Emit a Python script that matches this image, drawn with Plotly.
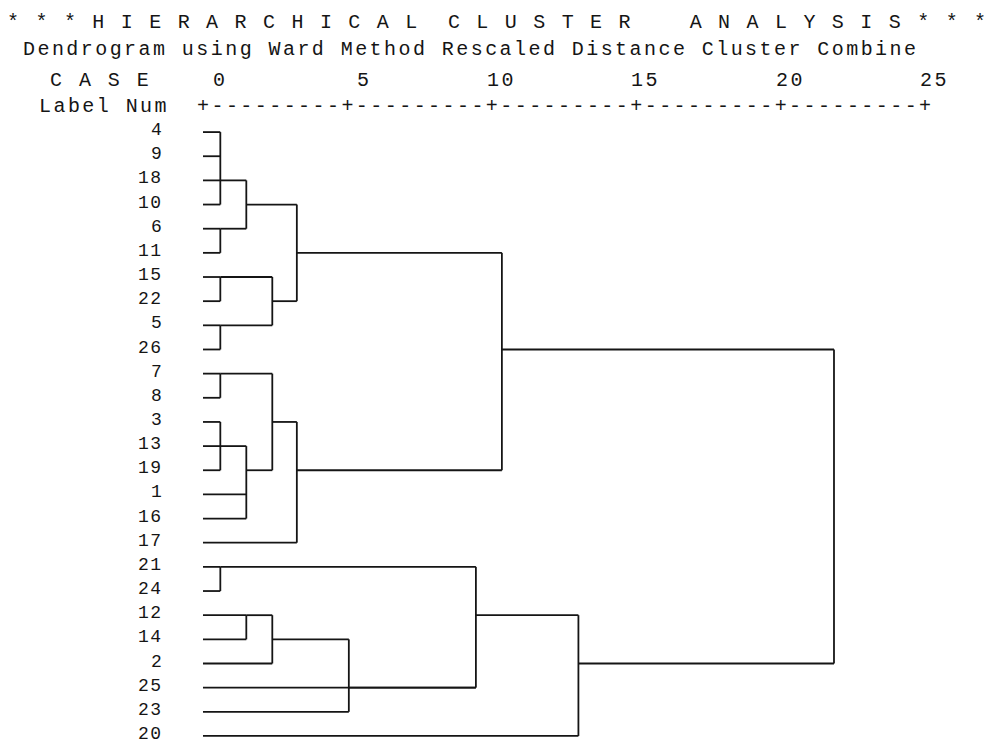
import plotly.graph_objects as go

# Case numbers in dendrogram order (top to bottom)
leaf_labels = [4, 9, 18, 10, 6, 11, 15, 22, 5, 26, 7, 8, 3, 13, 19, 1, 16, 17,
               21, 24, 12, 14, 2, 25, 23, 20]

# Agglomeration steps: members joined, rescaled distance, row that carries the link onward
merge_names = ["A", "B", "C", "D", "E", "F", "G", "H1", "H2", "H3", "I", "J", "K",
               "N1", "N2", "N3", "N4", "N5", "O", "P"]
merge_children = [
    [4, 9, 18, 10],
    [6, 11],
    ["A", "B"],
    [15, 22],
    [5, 26],
    ["D", "E"],
    ["C", "F"],
    [7, 8],
    [3, 13, 19],
    ["H2", 1, 16],
    ["H1", "H3"],
    ["I", 17],
    ["G", "J"],
    [21, 24],
    [12, 14],
    ["N2", 2],
    ["N3", 23],
    ["N1", "N4", 25],
    ["N5", 20],
    ["K", "O"],
]
merge_heights = [0.6, 0.6, 1.5, 0.6, 0.6, 2.4, 3.25, 0.6, 0.6, 1.5, 2.4, 3.25, 10.35,
                 0.6, 1.5, 2.4, 5.05, 9.45, 13.0, 21.85]
merge_rows = [2, 4, 3, 6, 8, 7, 5, 10, 13, 14, 12, 14, 9, 18, 20, 21, 23, 20, 22, None]

# Rescaled distance scale
tick_values = [0, 5, 10, 15, 20, 25]

title_text = "* * * H I E R A R C H I C A L  C L U S T E R    A N A L Y S I S * * *"
subtitle_text = "Dendrogram using Ward Method Rescaled Distance Cluster Combine"
case_text = "C A S E"
label_text = "Label Num"

FONT = "Courier New, Liberation Mono, monospace"
INK = "#151515"
SPACING = 2.44                 # extra letter spacing so each column is ~14.4 px wide
PX_PER_UNIT = 988 / (27.183 + 7.029)

Y_LO, Y_HI = -0.5, 25.25      # visible row span (reversed axis)
PLOT_TOP, PLOT_H = 120, 622    # plot area in pixels


def header_y(px):
    """Paper y for a header line centred at pixel row px (above the plot area)."""
    return (742 - px) / PLOT_H


# Build the elbow segments of the tree
node_pos = {lab: (i, 0.0) for i, lab in enumerate(leaf_labels)}
xs, ys = [], []
for name, kids, h, r in zip(merge_names, merge_children, merge_heights, merge_rows):
    rows = []
    for k in kids:
        kr, kh = node_pos[k]
        xs += [kh, h, None]
        ys += [kr, kr, None]
        rows.append(kr)
    xs += [h, h, None]
    ys += [min(rows), max(rows), None]
    node_pos[name] = (r, h)

fig = go.Figure()
fig.add_trace(go.Scatter(
    x=xs, y=ys, mode="lines",
    line=dict(color=INK, width=1.8),
    hoverinfo="skip", showlegend=False,
))


def mono(s, spacing):
    s = s.replace(" ", "\u00a0")
    return f'<span style="letter-spacing:{spacing}px">{s}</span>'


def note(x, y, text, anchor, size=20, yref="paper", height=None):
    d = dict(x=x, y=y, xref="x", yref=yref, text=text,
             xanchor=anchor, yanchor="middle", showarrow=False,
             font=dict(family=FONT, size=size, color=INK),
             borderpad=0, borderwidth=0)
    if height:
        d["height"] = height
    return d


trail = SPACING / PX_PER_UNIT   # letter spacing also pads after the last glyph

ann = []
# Case labels, right aligned beside each leaf, sitting a touch above the leaf line
for i, lab in enumerate(leaf_labels):
    ann.append(note(-1.38, i - 0.08, mono(str(lab), 1.5), "right", size=18, yref="y", height=16))

# Scale numbers above the ruler
for t in tick_values:
    ann.append(note(t + 0.75 + trail, header_y(80.5), mono(str(t), SPACING), "right"))

# Text ruler: '+' at each scale value, dashes in between
ruler = "+" + "".join("-" * (2 * (b - a) - 1) + "+"
                      for a, b in zip(tick_values[:-1], tick_values[1:]))
ann.append(note(tick_values[0] - 0.22, header_y(106), mono(ruler, SPACING), "left"))
ann.append(note(-1.25 + trail, header_y(106), mono(label_text, SPACING), "right"))
ann.append(note(-5.3, header_y(80.5), mono(case_text, SPACING), "left"))
ann.append(note(-6.25, header_y(49.5), mono(subtitle_text, SPACING), "left"))
ann.append(note(-6.8, header_y(23), mono(title_text, 2.22), "left"))

fig.update_layout(
    width=988, height=742,
    margin=dict(l=0, r=0, t=PLOT_TOP, b=742 - PLOT_TOP - PLOT_H, pad=0),
    paper_bgcolor="white", plot_bgcolor="white",
    xaxis=dict(range=[-7.029, 27.183], visible=False, fixedrange=True),
    yaxis=dict(range=[Y_HI, Y_LO], visible=False, fixedrange=True),
    annotations=ann,
    showlegend=False,
)

fig.write_html("out.html")
